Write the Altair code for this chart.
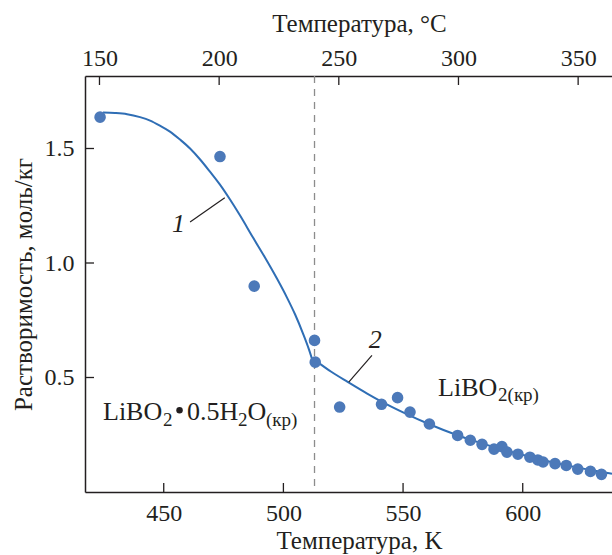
import altair as alt
import pandas as pd

# ---- data ----
PT_K = [423.4, 473.5, 487.8, 513.0, 513.3, 523.5, 541.0, 547.7, 552.9, 561.0,
        572.8, 578.1, 583.0, 588.0, 591.3, 593.4, 598.0, 603.0, 606.3, 608.5,
        613.5, 618.2, 623.0, 628.3, 632.9]
PT_S = [1.637, 1.465, 0.899, 0.662, 0.567, 0.371, 0.383, 0.412, 0.349, 0.297,
        0.247, 0.226, 0.208, 0.187, 0.198, 0.174, 0.165, 0.152, 0.140, 0.131,
        0.124, 0.116, 0.100, 0.090, 0.077]

C1_K = [424.6, 429.6, 434.7, 440.1, 444.3, 448.4, 452.6, 456.8, 461.0, 465.2, 469.3,
        473.5, 477.7, 481.9, 487.3, 492.3, 497.3, 501.5, 504.9, 508.2, 510.7, 512.9]
C1_S = [1.657, 1.655, 1.650, 1.637, 1.622, 1.600, 1.574, 1.539, 1.500, 1.452, 1.399,
        1.342, 1.277, 1.207, 1.111, 1.024, 0.932, 0.849, 0.775, 0.692, 0.622, 0.549]

C2_K = [513.3, 520, 527, 535, 541, 550, 561, 572.7, 580, 590, 600, 611, 620, 630, 637.3]
C2_S = [0.575, 0.525, 0.480, 0.430, 0.395, 0.348, 0.296, 0.248, 0.222, 0.190, 0.162, 0.133, 0.113, 0.093, 0.080]

PHASE_K = [513.0]
K_TICKS = [450, 500, 550, 600]
C_TICKS = [150, 200, 250, 300, 350]
Y_TICKS = [0.5, 1.0, 1.5]

LEAD_K1 = [461.0, 527.3]
LEAD_S1 = [1.179, 0.480]
LEAD_K2 = [475.5, 537.0]
LEAD_S2 = [1.285, 0.597]
CURVE_LBL = ["1", "2"]
CURVE_LBL_K = [456.2, 538.4]
CURVE_LBL_S = [1.134, 0.627]

# phase labels: text runs (main text / subscripts), left-aligned at their start
PH_TXT = ["LiBO", "2", "0.5H", "2", "O", "(кр)", "LiBO", "2(кр)"]
PH_K = [424.62, 449.69, 459.7, 481.0, 485.0, 492.7, 564.62, 589.69]
PH_S = [0.316, 0.290, 0.316, 0.290, 0.316, 0.290, 0.419, 0.396]
PH_FS = [26, 19, 26, 19, 26, 19, 26, 19]
DOT_K = [456.6]
DOT_S = [0.357]

X_DOM = [417.1, 637.3]
Y_DOM = [0, 1.8166]

FONT = "Liberation Serif"
INK = "#231f20"
W, H = 527, 416

xs = alt.Scale(domain=X_DOM, nice=False, zero=False)
ys = alt.Scale(domain=Y_DOM, nice=False, zero=False)

pts = pd.DataFrame({"k": PT_K, "s": PT_S})
c1 = pd.DataFrame({"k": C1_K, "s": C1_S})
c2 = pd.DataFrame({"k": C2_K, "s": C2_S})

bottom_axis = alt.Axis(values=K_TICKS, ticks=False, tickSize=0, grid=False, format="d",
                       labelFont=FONT, labelFontSize=24, labelColor=INK,
                       labelBaseline="alphabetic", labelPadding=28,
                       domainColor=INK, domainWidth=1.5,
                       title="Температура, K", titleFont=FONT, titleFontSize=25,
                       titleFontWeight="normal", titleColor=INK,
                       titleBaseline="alphabetic", titleY=56, titleX=274, titleAlign="center")
top_axis = alt.Axis(orient="top", values=[c + 273.15 for c in C_TICKS],
                    labelExpr="format(datum.value - 273.15, 'd')",
                    ticks=False, tickSize=0, grid=False,
                    labelFont=FONT, labelFontSize=24, labelColor=INK,
                    labelBaseline="alphabetic", labelPadding=11,
                    domainColor=INK, domainWidth=1.5,
                    title="Температура, °C", titleFont=FONT, titleFontSize=25,
                    titleFontWeight="normal", titleColor=INK,
                    titleBaseline="alphabetic", titleY=-45, titleX=274, titleAlign="center")
left_axis = alt.Axis(values=Y_TICKS, ticks=False, tickSize=0, grid=False, format=".1f",
                     labelFont=FONT, labelFontSize=24, labelColor=INK, labelPadding=11,
                     domainColor=INK, domainWidth=1.5,
                     title="Растворимость, моль/кг", titleFont=FONT, titleFontSize=25,
                     titleFontWeight="normal", titleColor=INK,
                     titleBaseline="alphabetic", titleX=-54, titleY=H / 2,
                     titleAngle=270, titleAlign="center")


def X(field="k", axis=None):
    return alt.X(f"{field}:Q", scale=xs, axis=axis)


def Y(field="s"):
    return alt.Y(f"{field}:Q", scale=ys, axis=left_axis)


phase = alt.Chart(pd.DataFrame({"k": PHASE_K})).mark_rule(
    color="#8c8c8c", strokeWidth=1.3, strokeDash=[7, 6]
).encode(x=X())

line1 = alt.Chart(c1).mark_line(color="#2f6eb5", strokeWidth=2, interpolate="monotone", clip=True).encode(
    x=X(), y=Y())
line2 = alt.Chart(c2).mark_line(color="#2f6eb5", strokeWidth=2, interpolate="monotone", clip=True).encode(
    x=X(), y=Y())

points = alt.Chart(pts).mark_circle(size=135, color="#4c79b9", opacity=1, clip=True).encode(
    x=X(axis=bottom_axis), y=Y())

bticks = alt.Chart(pd.DataFrame({"k": K_TICKS})).mark_rule(color=INK, strokeWidth=1.3).encode(
    x=X(), y=alt.value(H), y2=alt.value(H - 9))
tticks = alt.Chart(pd.DataFrame({"c": C_TICKS})).transform_calculate(
    k="datum.c + 273.15").mark_rule(color=INK, strokeWidth=1.3).encode(
    x=X(axis=top_axis), y=alt.value(0), y2=alt.value(9))
lticks = alt.Chart(pd.DataFrame({"s": Y_TICKS})).mark_rule(color=INK, strokeWidth=1.3).encode(
    y=Y(), x=alt.value(0), x2=alt.value(9))

leaders = alt.Chart(pd.DataFrame({"k": LEAD_K1, "s": LEAD_S1, "k2": LEAD_K2, "s2": LEAD_S2})).mark_rule(
    color=INK, strokeWidth=1.2).encode(x=X(), y=Y(), x2="k2:Q", y2="s2:Q")

curve_lbl = alt.Chart(pd.DataFrame({"t": CURVE_LBL, "k": CURVE_LBL_K, "s": CURVE_LBL_S})).mark_text(
    font=FONT, fontSize=26, fontStyle="italic", color=INK, align="center", baseline="alphabetic").encode(
    x=X(), y=Y(), text="t:N")

phase_lbl = alt.Chart(pd.DataFrame({"t": PH_TXT, "k": PH_K, "s": PH_S, "fs": PH_FS})).mark_text(
    font=FONT, color=INK, align="left", baseline="alphabetic").encode(
    x=X(), y=Y(), text="t:N", size=alt.Size("fs:Q", scale=None, legend=None))

dot = alt.Chart(pd.DataFrame({"k": DOT_K, "s": DOT_S})).mark_circle(size=42, color=INK, opacity=1).encode(
    x=X(), y=Y())

chart = alt.layer(phase, line1, line2, points, bticks, tticks, lticks, leaders,
                  curve_lbl, phase_lbl, dot).resolve_axis(x="independent").properties(
    width=W, height=H,
    autosize=alt.AutoSizeParams(type="none"),
    padding={"left": 85, "top": 76, "right": 0, "bottom": 63},
    background="white",
).configure_view(stroke=None)

chart.save("out.html", embed_options={"renderer": "svg", "actions": False})
